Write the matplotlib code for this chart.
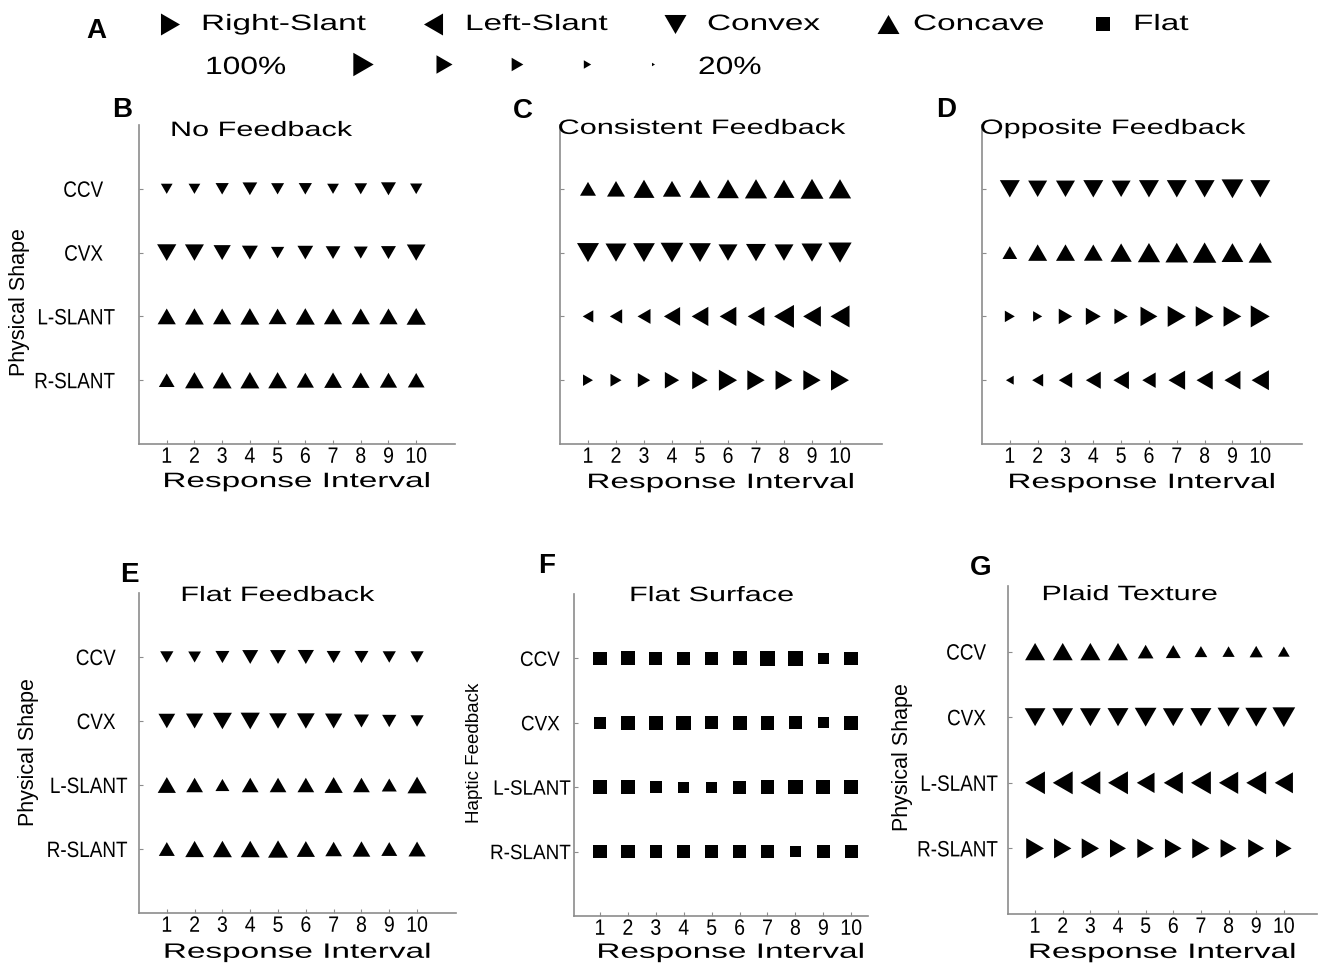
import numpy as np
import matplotlib
matplotlib.use('Agg')
import matplotlib.pyplot as plt
from matplotlib.patheffects import AbstractPathEffect
from matplotlib.transforms import Affine2D

plt.rcParams['font.family'] = ['Liberation Sans', 'DejaVu Sans']

# x axis: response interval, y axis: physical shape (bottom to top)
intervals = np.arange(1, 11)
shape_ticks = [1, 2, 3, 4]
shape_labels = ['R-SLANT', 'L-SLANT', 'CVX', 'CCV']

# modal response per row and its percentage (rows: R-SLANT, L-SLANT, CVX, CCV)
nofb_resp = ['concave', 'concave', 'convex', 'convex']
nofb_pct = [[69, 81, 82, 82, 81, 75, 77, 77, 75, 73],
            [79, 81, 79, 82, 78, 82, 79, 79, 79, 83],
            [83, 82, 75, 70, 59, 69, 65, 62, 66, 81],
            [53, 53, 59, 65, 58, 59, 53, 57, 66, 55]]

cons_resp = ['right', 'left', 'convex', 'concave']
cons_pct = [[52, 57, 63, 72, 78, 90, 86, 84, 86, 89],
            [55, 63, 66, 81, 83, 83, 83, 98, 88, 94],
            [94, 90, 93, 97, 93, 82, 86, 82, 90, 99],
            [70, 78, 90, 79, 89, 93, 95, 90, 98, 95]]

opp_resp = ['left', 'right', 'concave', 'convex']
opp_pct = [[42, 57, 68, 75, 78, 68, 83, 81, 80, 86],
           [52, 48, 68, 75, 68, 84, 90, 88, 88, 94],
           [65, 82, 82, 81, 91, 95, 97, 100, 93, 99],
           [86, 82, 82, 86, 82, 86, 86, 86, 93, 86]]

flatfb_resp = ['concave', 'concave', 'convex', 'convex']
flatfb_pct = [[70, 81, 82, 82, 86, 79, 73, 77, 70, 75],
              [79, 73, 62, 73, 73, 73, 79, 73, 66, 83],
              [73, 75, 82, 83, 77, 77, 75, 66, 63, 59],
              [59, 57, 62, 70, 70, 71, 62, 62, 59, 59]]

flatsurf_resp = ['flat', 'flat', 'flat', 'flat']
flatsurf_pct = [[92, 92, 85, 88, 90, 88, 92, 82, 92, 90],
                [96, 96, 85, 79, 77, 92, 96, 98, 96, 94],
                [84, 96, 96, 100, 90, 96, 96, 90, 79, 98],
                [92, 96, 92, 92, 90, 96, 98, 98, 79, 94]]

plaid_resp = ['right', 'left', 'convex', 'concave']
plaid_pct = [[88, 86, 86, 80, 83, 83, 86, 80, 80, 78],
             [97, 98, 98, 98, 88, 94, 98, 95, 98, 90],
             [89, 89, 89, 90, 93, 89, 90, 94, 93, 97],
             [86, 86, 86, 86, 69, 66, 57, 55, 59, 53]]

legend_shapes = ['right', 'left', 'convex', 'concave', 'flat']
legend_names = ['Right-Slant', 'Left-Slant', 'Convex', 'Concave', 'Flat']
legend_pcts = [100, 80, 60, 40, 20]

W, H = 1321, 965
GREY = '#8c8c8c'

markers = {
    'right': [(-0.866, -1), (-0.866, 1), (0.866, 0), (-0.866, -1)],
    'left': [(0.866, -1), (0.866, 1), (-0.866, 0), (0.866, -1)],
    'convex': [(-1, 0.866), (1, 0.866), (0, -0.866), (-1, 0.866)],
    'concave': [(-1, -0.866), (1, -0.866), (0, 0.866), (-1, -0.866)],
    'flat': 's',
}


class Stretch(AbstractPathEffect):
    # scale glyphs horizontally (wide titles, condensed tick labels)
    def __init__(self, sx, anchor='center'):
        super().__init__()
        self.sx = sx
        self.anchor = anchor

    def draw_path(self, renderer, gc, tpath, affine, rgbFace=None):
        ext = tpath.get_extents()
        if self.anchor == 'center':
            cx = (ext.x0 + ext.x1) / 2
        elif self.anchor == 'right':
            cx = ext.x1
        else:
            cx = 0
        t = Affine2D().translate(-cx, 0).scale(self.sx, 1).translate(cx, 0)
        renderer.draw_path(gc, tpath, t + affine, rgbFace)


def px_box(l, t, r, b):
    return [l / W, 1 - b / H, (r - l) / W, (b - t) / H]


def marker_size(pct, shape):
    # side of the marker in pixels grows with percentage, returned in points
    base = 0.25 * np.asarray(pct, dtype=float) - 1.5
    if shape == 'flat':
        base = 0.62 * base
    return base * 72 / 100


fig = plt.figure(figsize=(W / 100, H / 100), dpi=100)

# letter, title, ylabel, responses, pct, box, xlim, ypad, ytick size, title pos, xlabel pos, ylabel pos, letter pos
panels = [
    ('B', 'No Feedback', 'Physical Shape', nofb_resp, nofb_pct, (139, 125, 455, 444), (0, 11.4), 17, 16,
     (0.388, 0.9655), (0.5, -0.135), (-0.345, 0.445), (122, 117)),
    ('C', 'Consistent Feedback', None, cons_resp, cons_pct, (560, 125, 882, 444), (0, 11.5), 0, 16,
     (0.441, 0.972), (0.5, -0.138), None, (523, 118)),
    ('D', 'Opposite Feedback', None, opp_resp, opp_pct, (982, 125, 1302, 444), (0, 11.5), 0, 16,
     (0.409, 0.972), (0.5, -0.138), None, (946, 117)),
    ('E', 'Flat Feedback', 'Physical Shape', flatfb_resp, flatfb_pct, (139, 593, 456, 913), (0, 11.4), 8, 16,
     (0.438, 0.975), (0.5, -0.14), (-0.315, 0.503), (129, 582)),
    ('F', 'Flat Surface', 'Haptic Feedback', flatsurf_resp, flatsurf_pct, (574, 594, 868, 916), (0.07, 10.6), 2, 15,
     (0.469, 0.978), (0.534, -0.13), (-0.31, 0.506), (547, 573)),
    ('G', 'Plaid Texture', 'Physical Shape', plaid_resp, plaid_pct, (1008, 586, 1317, 914), (0.02, 11.2), 7, 16,
     (0.395, 0.957), (0.5, -0.134), (-0.307, 0.479), (981, 575)),
]

for (letter, title, ylab, resp, pct, bx, xlim, ypad, ysize, tpos, xlpos, ylpos, lpos) in panels:
    ax = fig.add_axes(px_box(*bx))
    for row, shape in enumerate(resp):
        ms = marker_size(pct[row], shape)
        ax.scatter(intervals, np.full(len(intervals), shape_ticks[row]), s=ms ** 2,
                   marker=markers[shape], c='k', linewidths=0, clip_on=False)
    ax.set_xlim(*xlim)
    ax.set_ylim(0, 5)
    ax.set_xticks(intervals)
    for lbl in ax.set_xticklabels([str(i) for i in intervals], fontsize=16):
        lbl.set_path_effects([Stretch(0.88)])
    ax.set_yticks(shape_ticks)
    if ylab is not None:
        ylbls = ax.set_yticklabels([s if 'SLANT' in s else s + '  ' for s in shape_labels],
                                   fontsize=ysize)
        for lbl in ylbls:
            lbl.set_path_effects([Stretch(0.85 * 16 / ysize, 'right')])
        ax.set_ylabel(ylab, fontsize=13.5 if ylab.startswith('Haptic') else 15.5)
        ax.yaxis.set_label_coords(*ylpos)
    else:
        ax.set_yticklabels([])
    ax.tick_params(axis='x', pad=2)
    ax.tick_params(axis='y', pad=ypad)
    ax.tick_params(direction='in', length=3, width=0.8, color=GREY)
    for side in ['top', 'right']:
        ax.spines[side].set_visible(False)
    for side in ['left', 'bottom']:
        ax.spines[side].set_color(GREY)
        ax.spines[side].set_linewidth(1.2)
    ax.set_title(title, x=tpos[0], y=tpos[1], pad=0, fontsize=15,
                 path_effects=[Stretch(1.47)])
    ax.set_xlabel('Response Interval', fontsize=15, va='baseline',
                  path_effects=[Stretch(1.6)])
    ax.xaxis.set_label_coords(*xlpos)
    fig.text(lpos[0] / W, 1 - lpos[1] / H, letter, ha='center', va='baseline',
             fontsize=20, fontweight='bold')

# legend strip (panel A)
leg = fig.add_axes(px_box(0, 0, W, 95))
leg.set_xlim(0, W)
leg.set_ylim(95, 0)
leg.axis('off')
fig.text(96 / W, 1 - 38 / H, 'A', ha='center', va='baseline', fontsize=20, fontweight='bold')

row1_marker_x = [170, 433, 675, 888, 1103]
row1_text_x = [201, 465, 707, 913, 1133]
for shape, name, mx, tx in zip(legend_shapes, legend_names, row1_marker_x, row1_text_x):
    side = 14 if shape == 'flat' else 22
    leg.scatter([mx], [24], s=(side * 0.72) ** 2, marker=markers[shape], c='k',
                linewidths=0, clip_on=False)
    leg.text(tx, 30, name, ha='left', va='baseline', fontsize=16,
             path_effects=[Stretch(1.5, 'left')])

row2_marker_x = [363, 444, 517, 587, 653]
for p, mx in zip(legend_pcts, row2_marker_x):
    leg.scatter([mx], [63.5], s=marker_size(p, 'right') ** 2, marker=markers['right'],
                c='k', linewidths=0, clip_on=False)
leg.text(205, 74, '%d%%' % legend_pcts[0], ha='left', va='baseline', fontsize=18,
         path_effects=[Stretch(1.27, 'left')])
leg.text(698, 74, '%d%%' % legend_pcts[-1], ha='left', va='baseline', fontsize=18,
         path_effects=[Stretch(1.27, 'left')])

fig.savefig('out.png', dpi=100)
